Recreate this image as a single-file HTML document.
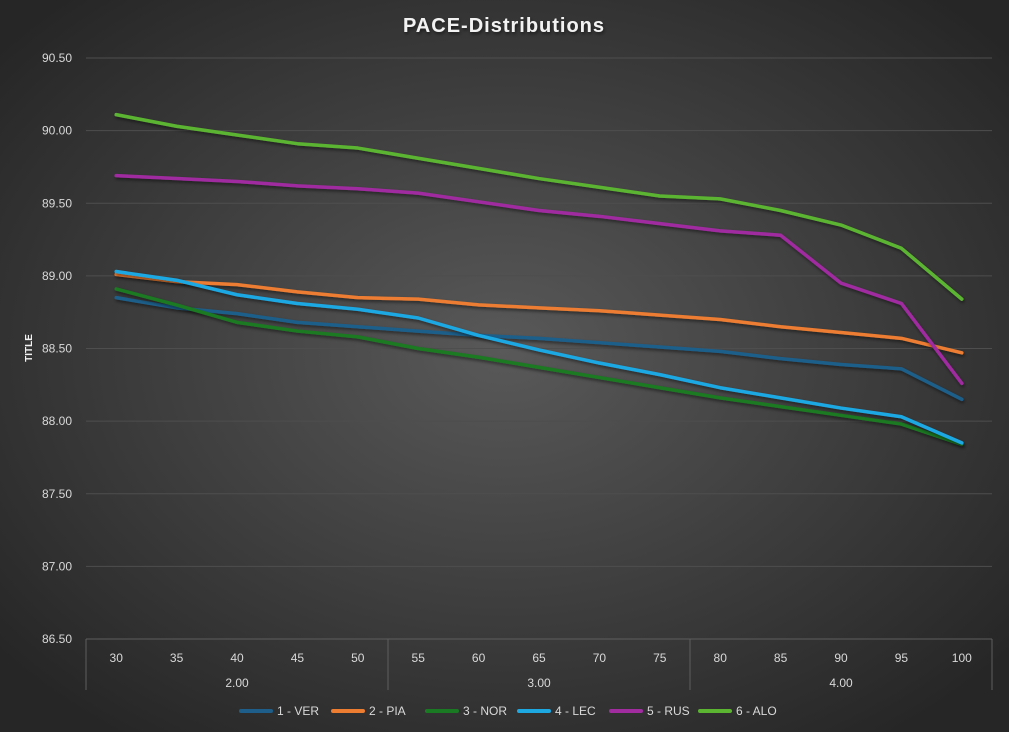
<!DOCTYPE html>
<html><head><meta charset="utf-8"><style>
body{margin:0;width:1009px;height:732px;overflow:hidden;background:#2a2a2a;}
svg{display:block;font-family:"Liberation Sans",sans-serif;}
</style></head><body>
<svg id="chart" width="1009" height="732">
<defs>
<radialGradient id="bg" cx="50%" cy="48%" r="65%">
<stop offset="0" stop-color="#595959"/><stop offset="1" stop-color="#262626"/>
</radialGradient>
<filter id="sh" x="-5%" y="-5%" width="110%" height="120%"><feDropShadow dx="1" dy="2" stdDeviation="1.5" flood-color="#000" flood-opacity="0.5"/></filter>
</defs>
<rect width="1009" height="732" fill="url(#bg)"/>
<text x="504" y="32" text-anchor="middle" fill="#f2f2f2" font-size="20" font-weight="bold" letter-spacing="1" filter="url(#sh)">PACE-Distributions</text>
<text transform="translate(32,348) rotate(-90)" text-anchor="middle" fill="#f2f2f2" font-size="10" font-weight="bold">TITLE</text>
<g id="grid"></g><g id="yticks"></g><g id="xaxis"></g><g id="lines"></g><g id="legend"></g>
</svg>
<script>
const categories=[30,35,40,45,50,55,60,65,70,75,80,85,90,95,100];
const groups=["2.00","3.00","4.00"];
const yTicks=[86.5,87,87.5,88,88.5,89,89.5,90,90.5];
const seriesNames=["1 - VER","2 - PIA","3 - NOR","4 - LEC","5 - RUS","6 - ALO"];
const ver=[88.85,88.78,88.74,88.68,88.65,88.62,88.59,88.57,88.54,88.51,88.48,88.43,88.39,88.36,88.15];
const pia=[89.01,88.96,88.94,88.89,88.85,88.84,88.80,88.78,88.76,88.73,88.70,88.65,88.61,88.57,88.47];
const nor=[88.91,88.80,88.68,88.62,88.58,88.50,88.44,88.37,88.30,88.23,88.16,88.10,88.04,87.98,87.84];
const lec=[89.03,88.97,88.87,88.81,88.77,88.71,88.59,88.49,88.40,88.32,88.23,88.16,88.09,88.03,87.85];
const rus=[89.69,89.67,89.65,89.62,89.60,89.57,89.51,89.45,89.41,89.36,89.31,89.28,88.95,88.81,88.26];
const alo=[90.11,90.03,89.97,89.91,89.88,89.81,89.74,89.67,89.61,89.55,89.53,89.45,89.35,89.19,88.84];
const colors=["#1d5f8a","#ed7d31","#1a7a24","#1ea8e2","#a02ca0","#5cb531"];
const NS="http://www.w3.org/2000/svg";
const L=86,R=992,T=58,B=639;
const yMin=86.5,yMax=90.5;
const step=(R-L)/categories.length;
function x(i){return L+step*(i+0.5);}
function y(v){return B-(v-yMin)/(yMax-yMin)*(B-T);}
function mk(tag,attrs,parent){const e=document.createElementNS(NS,tag);for(const k in attrs)e.setAttribute(k,attrs[k]);parent.appendChild(e);return e;}
const grid=document.getElementById('grid'),yt=document.getElementById('yticks'),xa=document.getElementById('xaxis'),lg=document.getElementById('lines'),leg=document.getElementById('legend');
yTicks.forEach(v=>{
  const l=mk('line',{x1:L,x2:R,y1:y(v),y2:y(v),stroke:v===yMin?'#5e5e5e':'#4e4e4e','stroke-width':1},grid);
  
  
  const t=mk('text',{x:72,y:y(v)+4,'text-anchor':'end',fill:'#d9d9d9','font-size':12},yt);
  t.textContent=v.toFixed(2);
  
  
});
categories.forEach((c,i)=>{
  const t=mk('text',{x:x(i),y:662,'text-anchor':'middle',fill:'#d9d9d9','font-size':12},xa);
  t.textContent=c;
  
  
});
for(let g=0;g<=groups.length;g++){
  const gx=L+g*5*step;
  const l=mk('line',{x1:gx,x2:gx,y1:B,y2:690,stroke:'#5e5e5e','stroke-width':1},xa);
  
  
}
groups.forEach((g,i)=>{
  const t=mk('text',{x:L+(i*5+2.5)*step,y:687,'text-anchor':'middle',fill:'#d9d9d9','font-size':12},xa);
  t.textContent=g;
  
  
});
const data=[ver,pia,nor,lec,rus,alo];
data.forEach((s,k)=>{
  const p=mk('polyline',{points:s.map((v,i)=>x(i)+','+y(v)).join(' '),fill:'none',stroke:colors[k],'stroke-width':3.5,'stroke-linejoin':'round','stroke-linecap':'round',filter:'url(#sh)'},lg);
  
  
});
const lx=[241,333,427,519,611,700];
seriesNames.forEach((n,k)=>{
  const g=mk('g',{},leg);
  
  
  mk('line',{x1:lx[k],x2:lx[k]+30,y1:711,y2:711,stroke:colors[k],'stroke-width':4,'stroke-linecap':'round'},g);
  const t=mk('text',{x:lx[k]+36,y:715,fill:'#d9d9d9','font-size':12},g);
  t.textContent=n;
});
</script>
</body></html>
